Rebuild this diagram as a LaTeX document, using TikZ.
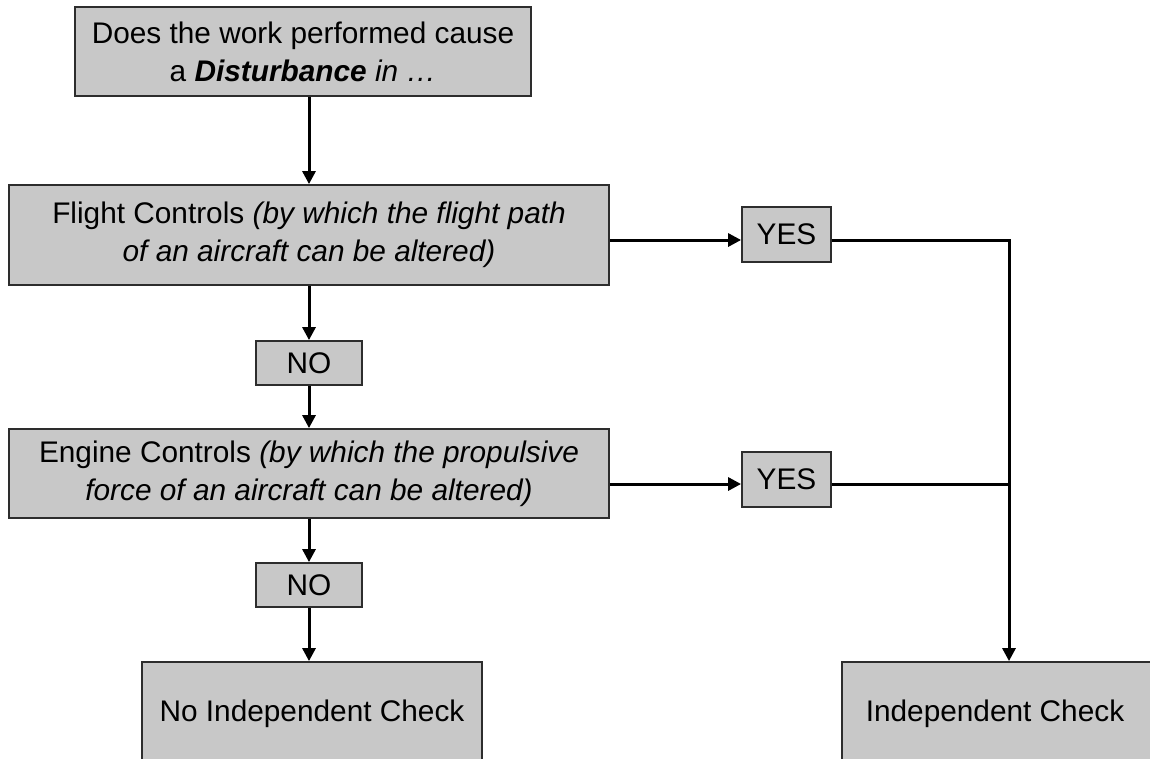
\documentclass[tikz,border=0pt]{standalone}
\usepackage{fontspec}
\setmainfont{Liberation Sans}
\usetikzlibrary{arrows.meta,calc}
\definecolor{boxfill}{RGB}{200,200,200}
\definecolor{boxline}{RGB}{45,45,45}
\begin{document}
\begin{tikzpicture}[x=1pt,y=-1pt,
  box/.style={draw=boxline,fill=boxfill,line width=1.8pt,inner sep=0pt,align=center,
    font=\fontsize{29.8}{38}\selectfont},
  conn/.style={line width=3pt,draw=black,line join=miter},
  arr/.style={conn,-{Triangle[length=13pt,width=13pt]}}]
\useasboundingbox (0,0) rectangle (1150,758);
% nodes
\node[box,minimum width=456pt,minimum height=89pt] (top) at (303,51.5)
  {Does the work performed cause\\ a \textbf{\textit{Disturbance}} \textit{in \ldots}};
\node[box,minimum width=600pt,minimum height=100pt] (fc) at (309,235)
  {Flight Controls \textit{(by which the flight path}\\ \textit{of an aircraft can be altered)}};
\node[box,minimum width=106pt,minimum height=44pt] (no1) at (309,363) {NO};
\node[box,minimum width=600pt,minimum height=89pt] (ec) at (309,473.5)
  {Engine Controls \textit{(by which the propulsive}\\ \textit{force of an aircraft can be altered)}};
\node[box,minimum width=106pt,minimum height=44pt] (no2) at (309,585) {NO};
\node[box,minimum width=89pt,minimum height=55pt] (yes1) at (786.5,234.5) {YES};
\node[box,minimum width=89pt,minimum height=55pt] (yes2) at (786.5,479.5) {YES};
\node[box,minimum width=340pt,minimum height=103pt] (ni) at (312,713.5) {No Independent Check};
\node[box,minimum width=360pt,minimum height=103pt] (ic) at (1022,713.5) {Independent Check\hspace*{54pt}};
% junctions
\coordinate (j1) at (1009,240);
\coordinate (j2) at (1009,484);
% connectors
\draw[arr] (top.south -| fc.south) -- (fc.north);
\draw[arr] (fc.south) -- (no1.north);
\draw[arr] (no1.south) -- (ec.north);
\draw[arr] (ec.south) -- (no2.north);
\draw[arr] (no2.south) -- (no2.south |- ni.north);
\draw[arr] (fc.east |- j1) -- (yes1.west |- j1);
\draw[arr] (yes1.east |- j1) -- (j1) -- (j1 |- ic.north);
\draw[arr] (ec.east |- j2) -- (yes2.west |- j2);
\draw[conn] (yes2.east |- j2) -- (j2);
\end{tikzpicture}
\end{document}
